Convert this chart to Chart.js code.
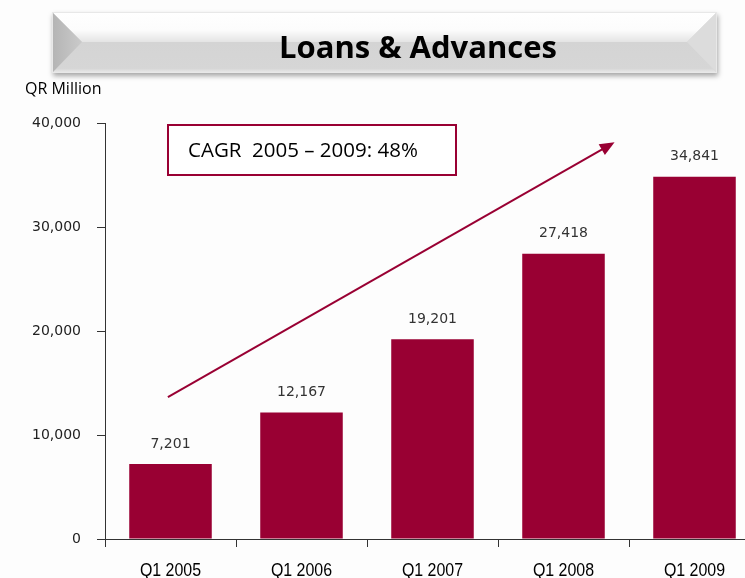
<!DOCTYPE html>
<html>
<head>
<meta charset="utf-8">
<script src="https://cdn.jsdelivr.net/npm/chart.js@4"></script>
<style>
  html, body { margin: 0; padding: 0; background: #fdfdfd; overflow: hidden; }
  #wrap { position: absolute; left: 0; top: 0; width: 772px; height: 600px; }
</style>
</head>
<body>
<div id="wrap"><canvas id="loansChart" width="772" height="600"></canvas></div>
<script>
// chart data
const categories = ['Q1 2005', 'Q1 2006', 'Q1 2007', 'Q1 2008', 'Q1 2009'];
const loanValues = [7201, 12167, 19201, 27418, 34841];
const yTicks = [0, 10000, 20000, 30000, 40000];

const chartTitle = 'Loans & Advances';
const unitLabel = 'QR Million';
const cagrText = 'CAGR  2005 \u2013 2009: 48%';
// arrow endpoints in data terms: [category index, value]
const arrowFrom = [-0.02, 13650];
const arrowTo = [3.39, 38150];

const maroon = '#990033';

function fmt(v) {
    return v.toLocaleString('en-US');
}

/**
 * Bevelled title banner, unit label, CAGR box, arrow, labels
 */
const decorPlugin = {
    id: 'decor',
    beforeDraw(chart) {
        const ctx = chart.ctx;
        ctx.save();
        const L = 52, T = 12, R = 717, B = 73, bev = 30, mid = 42;
        // shadow
        ctx.shadowColor = 'rgba(0,0,0,0.35)';
        ctx.shadowBlur = 5;
        ctx.shadowOffsetX = 1;
        ctx.shadowOffsetY = 3;
        ctx.fillStyle = '#d6d6d6';
        ctx.fillRect(L, T, R - L, B - T);
        ctx.shadowColor = 'transparent';
        // top facet (white)
        let g = ctx.createLinearGradient(0, T, 0, mid);
        g.addColorStop(0, '#ffffff');
        g.addColorStop(0.6, '#fcfcfc');
        g.addColorStop(1, '#e4e4e4');
        ctx.fillStyle = g;
        ctx.beginPath();
        ctx.moveTo(L, T); ctx.lineTo(R, T); ctx.lineTo(R - bev, mid); ctx.lineTo(L + bev, mid);
        ctx.closePath(); ctx.fill();
        // bottom facet (grey)
        g = ctx.createLinearGradient(0, mid, 0, B);
        g.addColorStop(0, '#d4d4d4');
        g.addColorStop(0.85, '#d6d6d6');
        g.addColorStop(1, '#ebebeb');
        ctx.fillStyle = g;
        ctx.beginPath();
        ctx.moveTo(L + bev, mid); ctx.lineTo(R - bev, mid); ctx.lineTo(R, B); ctx.lineTo(L, B);
        ctx.closePath(); ctx.fill();
        // left facet
        g = ctx.createLinearGradient(L, 0, L + bev, 0);
        g.addColorStop(0, '#b4b4b4');
        g.addColorStop(1, '#cacaca');
        ctx.fillStyle = g;
        ctx.beginPath();
        ctx.moveTo(L, T); ctx.lineTo(L + bev, mid); ctx.lineTo(L, B);
        ctx.closePath(); ctx.fill();
        // right facet
        ctx.fillStyle = '#dcdcdc';
        ctx.beginPath();
        ctx.moveTo(R, T); ctx.lineTo(R - bev, mid); ctx.lineTo(R, B);
        ctx.closePath(); ctx.fill();
        // outline
        ctx.strokeStyle = '#e8e8e8';
        ctx.lineWidth = 1;
        ctx.strokeRect(L + 0.5, T + 0.5, R - L - 1, B - T - 1);
        // title text
        ctx.fillStyle = '#000';
        ctx.font = 'bold 31px "Open Sans", Lato, sans-serif';
        ctx.textAlign = 'center';
        ctx.textBaseline = 'middle';
        ctx.fillText(chartTitle, 418, 49);
        // unit label
        ctx.font = '16px "Open Sans", sans-serif';
        ctx.textAlign = 'left';
        ctx.fillText(unitLabel, 25, 89);
        ctx.restore();
    },
    afterDatasetsDraw(chart) {
        const ctx = chart.ctx;
        const xs = chart.scales.x, ys = chart.scales.y;
        ctx.save();
        // CAGR box
        ctx.fillStyle = '#ffffff';
        ctx.fillRect(168, 125, 288, 50);
        ctx.strokeStyle = maroon;
        ctx.lineWidth = 2;
        ctx.strokeRect(168, 125, 288, 50);
        ctx.fillStyle = '#000';
        ctx.font = '20.5px "Open Sans", sans-serif';
        ctx.textBaseline = 'middle';
        ctx.fillText(cagrText, 188, 151);
        // growth arrow
        const x1 = xs.getPixelForValue(arrowFrom[0]), y1 = ys.getPixelForValue(arrowFrom[1]);
        const x2 = xs.getPixelForValue(arrowTo[0]), y2 = ys.getPixelForValue(arrowTo[1]);
        const ang = Math.atan2(y2 - y1, x2 - x1);
        const head = 16;
        ctx.strokeStyle = maroon;
        ctx.lineWidth = 2;
        ctx.beginPath();
        ctx.moveTo(x1, y1);
        ctx.lineTo(x2 - Math.cos(ang) * head * 0.8, y2 - Math.sin(ang) * head * 0.8);
        ctx.stroke();
        ctx.fillStyle = maroon;
        ctx.beginPath();
        ctx.moveTo(x2, y2);
        ctx.lineTo(x2 - head * Math.cos(ang - 0.4), y2 - head * Math.sin(ang - 0.4));
        ctx.lineTo(x2 - head * Math.cos(ang + 0.4), y2 - head * Math.sin(ang + 0.4));
        ctx.closePath();
        ctx.fill();
        // value labels
        ctx.fillStyle = '#333';
        ctx.font = '14px "DejaVu Sans", sans-serif';
        ctx.textAlign = 'center';
        ctx.textBaseline = 'bottom';
        const meta = chart.getDatasetMeta(0);
        meta.data.forEach((bar, i) => {
            ctx.fillText(fmt(loanValues[i]), bar.x, bar.y - 13);
        });
        // category labels, condensed like the original
        ctx.fillStyle = '#000';
        ctx.font = '19px "Liberation Sans", Arial, sans-serif';
        ctx.textBaseline = 'middle';
        categories.forEach((c, i) => {
            const x = xs.getPixelForTick(i);
            ctx.save();
            ctx.translate(x, 571);
            ctx.scale(0.84, 1);
            ctx.fillText(c, 0, 0);
            ctx.restore();
        });
        ctx.restore();
    }
};

const ctx = document.getElementById('loansChart');
new Chart(ctx, {
    type: 'bar',
    data: {
        labels: categories,
        datasets: [{
            data: loanValues,
            backgroundColor: maroon,
            borderWidth: 0,
            barPercentage: 0.63,
            categoryPercentage: 1.0
        }]
    },
    options: {
        responsive: false,
        animation: false,
        layout: { padding: { left: 0, right: 12, top: 123, bottom: 0 } },
        plugins: {
            legend: { display: false },
            tooltip: { enabled: false }
        },
        scales: {
            x: {
                offset: true,
                grid: {
                    display: true,
                    offset: true,
                    drawOnChartArea: false,
                    drawTicks: true,
                    tickLength: 8,
                    color: '#333'
                },
                border: { color: '#333', width: 1 },
                ticks: { display: false },
                afterFit(scale) { scale.height = 61; }
            },
            y: {
                min: 0,
                max: 40000,
                afterBuildTicks(scale) {
                    scale.ticks = yTicks.map(v => ({ value: v }));
                },
                grid: {
                    display: true,
                    drawOnChartArea: false,
                    drawTicks: true,
                    tickLength: 8,
                    color: '#333'
                },
                border: { color: '#333', width: 1 },
                ticks: {
                    color: '#222',
                    padding: 16,
                    font: { family: '"DejaVu Sans", sans-serif', size: 14 },
                    callback: v => fmt(v)
                },
                afterFit(scale) { scale.width = 105; }
            }
        }
    },
    plugins: [decorPlugin]
});
</script>
</body>
</html>
